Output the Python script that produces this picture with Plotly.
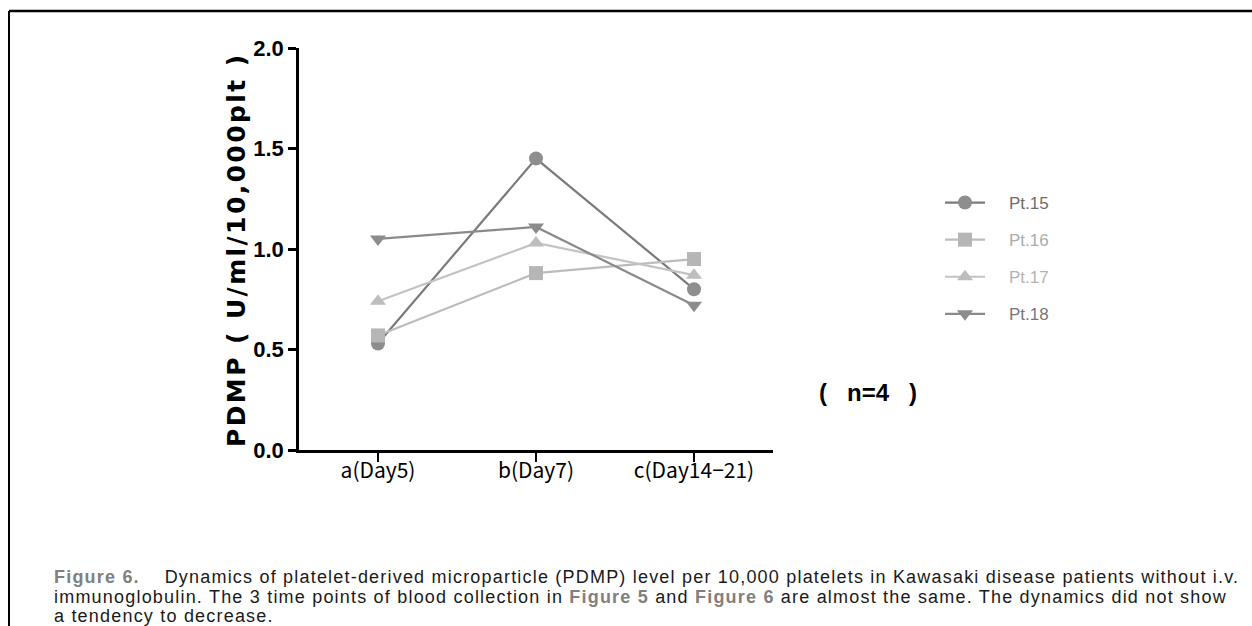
import plotly.graph_objects as go

# Sampling points and PDMP levels per patient
time_points = ["a(Day5)", "b(Day7)", "c(Day14\u221221)"]
pt15 = [0.53, 1.45, 0.80]
pt16 = [0.57, 0.88, 0.95]
pt17 = [0.74, 1.03, 0.87]
pt18 = [1.05, 1.11, 0.72]

y_ticks = [0.0, 0.5, 1.0, 1.5, 2.0]
y_tick_labels = ["0.0", "0.5", "1.0", "1.5", "2.0"]

W, H = 1252, 626
# plot area in pixels
L, R, T, B = 299, 773, 48, 450
pw, ph = R - L, B - T


def px(x):
    return (x - L) / pw


def py(y):
    return 1 - (y - T) / ph


series = [
    ("Pt.15", pt15, "circle", "#7b7b7b", "#8e8e8e", "#6c6c6c"),
    ("Pt.16", pt16, "square", "#bcbcbc", "#b6b6b6", "#ababab"),
    ("Pt.17", pt17, "triangle-up", "#c3c3c3", "#bdbdbd", "#b3b3b3"),
    ("Pt.18", pt18, "triangle-down", "#8a8a8a", "#8c8c8c", "#777777"),
]

gap = "\u00a0" * 4
fig = go.Figure()
for i, (name, vals, sym, lc, mc, tc) in enumerate(series):
    fig.add_trace(go.Scatter(
        x=[0, 1, 2], y=vals, mode="lines+markers",
        name=f"{gap}<span style='color:{tc}'>{name}</span>",
        legendgroup=f"g{i}",
        line=dict(color=lc, width=2.2),
        marker=dict(symbol=sym, size=14, color=mc, line=dict(width=0)),
    ))

fig.update_xaxes(
    range=[-0.5, 2.5], tickmode="array", tickvals=[0, 1, 2], ticktext=time_points,
    showline=True, linecolor="black", linewidth=2.5, showgrid=False, zeroline=False,
    ticks="outside", ticklen=9, tickwidth=2, tickcolor="black",
    ticklabelstandoff=-9,
    tickfont=dict(family="Noto Sans CJK JP", size=21, color="black"),
)
fig.update_yaxes(
    range=[0, 2], tickmode="array", tickvals=y_ticks, ticktext=y_tick_labels,
    showline=True, linecolor="black", linewidth=2.5, showgrid=False, zeroline=False,
    ticks="outside", ticklen=8, tickwidth=2.5, tickcolor="black",
    tickfont=dict(family="Liberation Sans", size=22, color="black", weight="bold"),
)

annotations = [
    dict(x=px(236), y=py(250), xref="paper", yref="paper",
         text="<span style='letter-spacing:2.4px'>PDMP ( U/ml/10,000plt )</span>",
         textangle=-90, showarrow=False,
         font=dict(family="DejaVu Sans", size=25, color="black", weight="bold"),
         xanchor="center", yanchor="middle"),
    dict(x=px(868), y=py(392), xref="paper", yref="paper",
         text="(   n=4   )", showarrow=False,
         font=dict(family="Liberation Sans", size=24, color="black", weight="bold"),
         xanchor="center", yanchor="middle"),
]

fig_tag = "<b><span style='color:#808080'>{}</span></b>"
caption = [
    fig_tag.format("Figure 6.") + "    Dynamics of platelet-derived microparticle (PDMP) level per 10,000 platelets in Kawasaki disease patients without i.v.",
    "immunoglobulin. The 3 time points of blood collection in " + fig_tag.format("Figure 5") + " and " + fig_tag.format("Figure 6") + " are almost the same. The dynamics did not show",
    "a tendency to decrease.",
]
for line, yy in zip(caption, [577, 597, 616]):
    annotations.append(dict(
        x=px(52), y=py(yy), xref="paper", yref="paper",
        text=f"<span style='letter-spacing:1.2px'>{line}</span>", showarrow=False,
        xanchor="left", yanchor="middle", align="left",
        font=dict(family="Liberation Sans", size=18, color="#1a1a1a"),
    ))

shapes = [
    dict(type="line", xref="paper", yref="paper", x0=px(9), x1=px(1252),
         y0=py(11), y1=py(11), line=dict(color="black", width=2.5)),
    dict(type="line", xref="paper", yref="paper", x0=px(9), x1=px(9),
         y0=py(11), y1=py(626), line=dict(color="black", width=2)),
]

fig.update_layout(
    width=W, height=H,
    margin=dict(l=L, r=W - R, t=T, b=H - B, autoexpand=False),
    paper_bgcolor="white", plot_bgcolor="white",
    showlegend=True,
    legend=dict(x=px(940), y=py(185), xanchor="left", yanchor="top",
                font=dict(family="Liberation Sans", size=17, color="#777777"),
                tracegroupgap=12, bgcolor="rgba(0,0,0,0)", itemwidth=40),
    annotations=annotations, shapes=shapes,
)

fig.write_html("out.html")
